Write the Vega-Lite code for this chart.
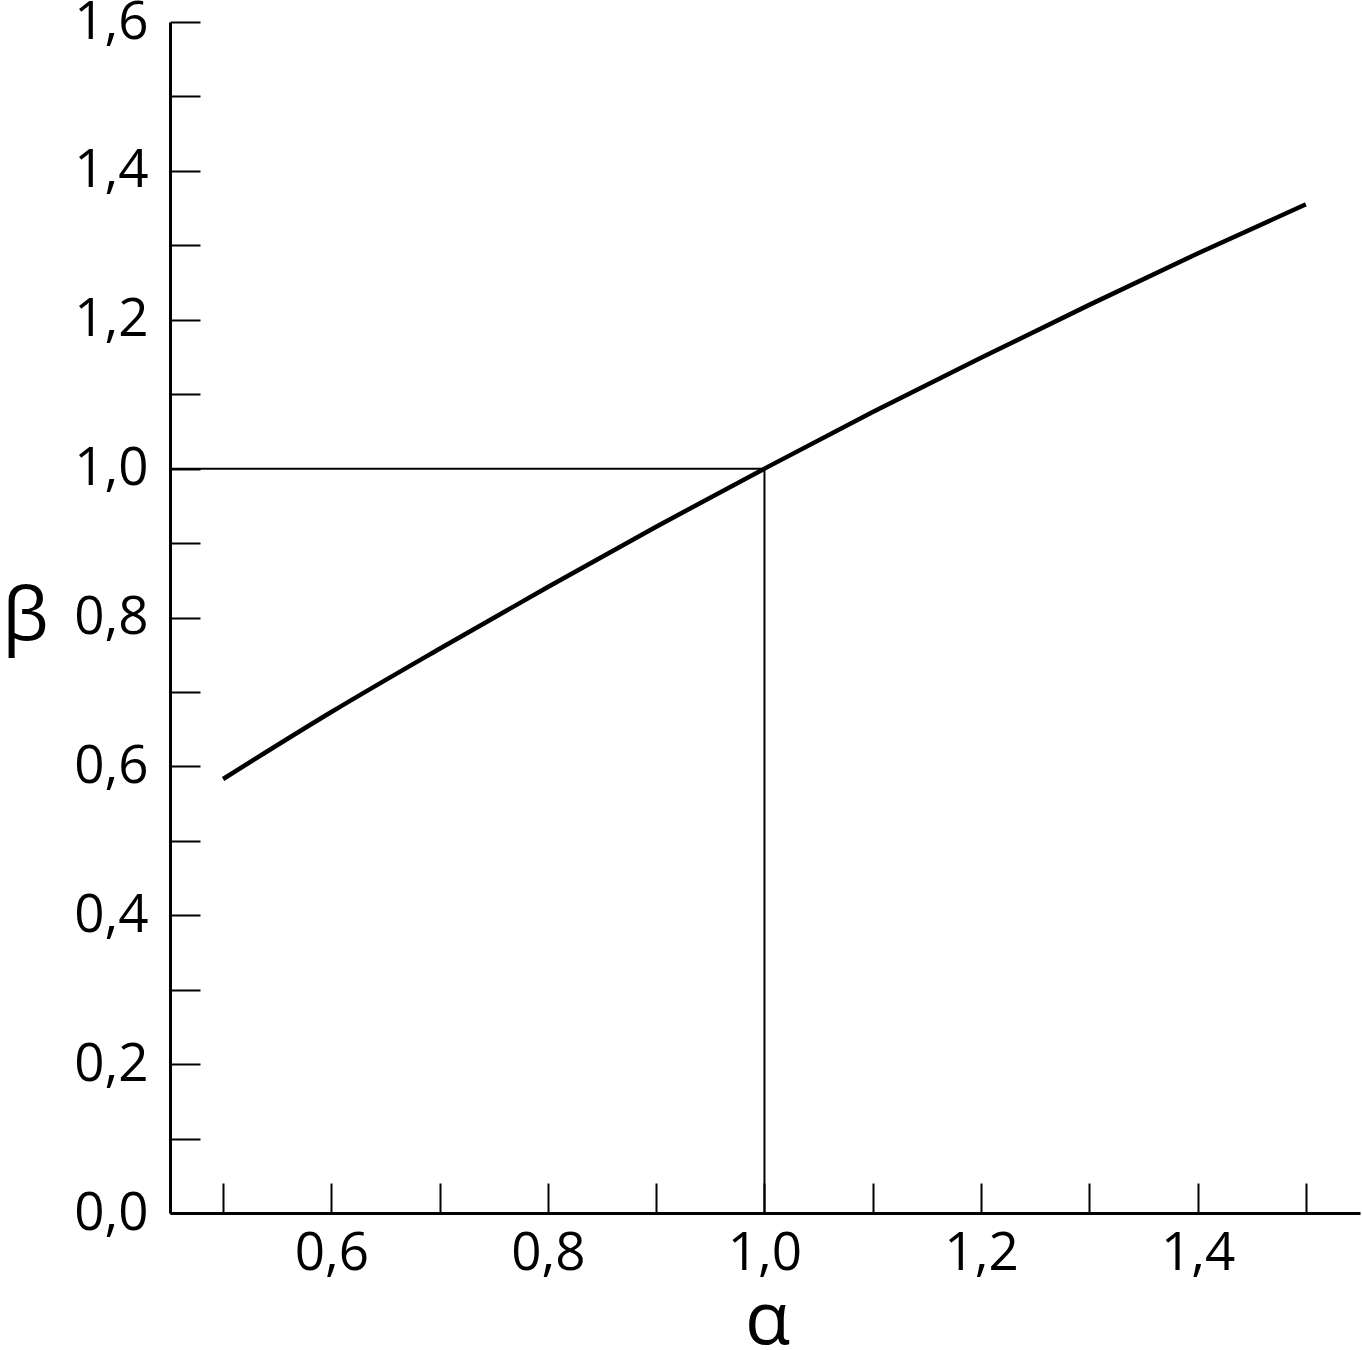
{
  "$schema": "https://vega.github.io/schema/vega-lite/v6.json",
  "autosize": "none",
  "width": 1190,
  "height": 1191,
  "padding": {"left": 170, "top": 22, "right": 2, "bottom": 137},
  "background": "white",
  "config": {
    "view": {"stroke": null},
    "font": "Open Sans",
    "axis": {
      "grid": false,
      "domainColor": "black",
      "domainWidth": 3,
      "tickColor": "black",
      "tickWidth": 2,
      "tickSize": -30,
      "labelColor": "black",
      "labelFont": "Open Sans",
      "labelFontSize": 53,
      "labelOverlap": false,
      "labelFlush": false,
      "titleFont": "Open Sans",
      "titleFontSize": 74,
      "titleFontWeight": "normal",
      "titleColor": "black"
    }
  },
  "datasets": {
    "curve": [
      {"alpha": 0.5, "beta": 0.583},
      {"alpha": 0.6, "beta": 0.673},
      {"alpha": 0.7, "beta": 0.758},
      {"alpha": 0.8, "beta": 0.841},
      {"alpha": 0.9, "beta": 0.922},
      {"alpha": 1.0, "beta": 1.0},
      {"alpha": 1.1, "beta": 1.076},
      {"alpha": 1.2, "beta": 1.149},
      {"alpha": 1.3, "beta": 1.22},
      {"alpha": 1.4, "beta": 1.289},
      {"alpha": 1.5, "beta": 1.355}
    ],
    "guides": [
      {"x": 0.451, "x2": 1.0, "y": 1.0, "y2": 1.0},
      {"x": 1.0, "x2": 1.0, "y": 0.0, "y2": 1.0}
    ]
  },
  "layer": [
    {
      "data": {"name": "guides"},
      "mark": {"type": "rule", "color": "black", "strokeWidth": 2},
      "encoding": {
        "x": {"field": "x", "type": "quantitative", "scale": {"domain": [0.451, 1.55], "nice": false, "zero": false}},
        "x2": {"field": "x2"},
        "y": {"field": "y", "type": "quantitative", "scale": {"domain": [0, 1.6], "nice": false}},
        "y2": {"field": "y2"}
      }
    },
    {
      "data": {"name": "curve"},
      "mark": {"type": "line", "color": "black", "strokeWidth": 4.5, "interpolate": "monotone"},
      "encoding": {
        "x": {
          "field": "alpha", "type": "quantitative",
          "scale": {"domain": [0.451, 1.55], "nice": false, "zero": false},
          "axis": {
            "title": "α",
            "values": [0.5, 0.6, 0.7, 0.8, 0.9, 1.0, 1.1, 1.2, 1.3, 1.4, 1.5],
            "labelExpr": "indexof(['0.6','0.8','1.0','1.2','1.4'], format(datum.value,'.1f')) >= 0 ? replace(format(datum.value,'.1f'),'.',',') : ''",
            "labelPadding": 44,
            "titleY": 130,
            "titleBaseline": "alphabetic",
            "titleX": 597,
            "titleAlign": "center"
          }
        },
        "y": {
          "field": "beta", "type": "quantitative",
          "scale": {"domain": [0, 1.6], "nice": false},
          "axis": {
            "title": "β",
            "values": [0, 0.1, 0.2, 0.3, 0.4, 0.5, 0.6, 0.7, 0.8, 0.9, 1.0, 1.1, 1.2, 1.3, 1.4, 1.5, 1.6],
            "labelExpr": "round(datum.value*10) % 2 == 0 ? replace(format(datum.value,'.1f'),'.',',') : ''",
            "labelPadding": 52,
            "titleAngle": 0,
            "titleX": -145,
            "titleY": 595,
            "titleAlign": "center",
            "titleBaseline": "middle"
          }
        }
      }
    }
  ]
}
